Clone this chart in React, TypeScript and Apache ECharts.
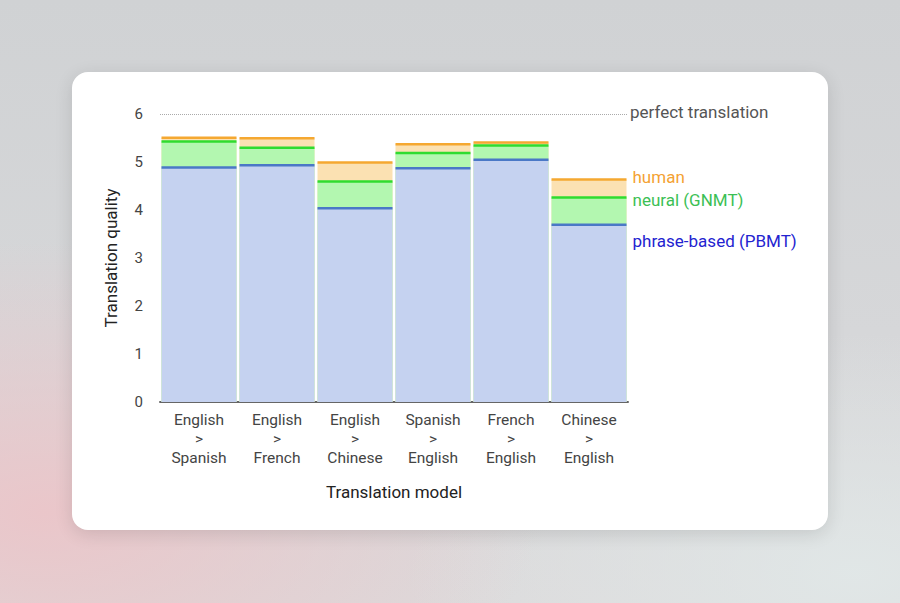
import React, { useEffect, useRef } from "react";
import * as echarts from "echarts";

const categories = [
  "English\n>\nSpanish",
  "English\n>\nFrench",
  "English\n>\nChinese",
  "Spanish\n>\nEnglish",
  "French\n>\nEnglish",
  "Chinese\n>\nEnglish",
];
const pbmt = [4.885, 4.932, 4.035, 4.872, 5.046, 3.694];
const gnmt = [5.428, 5.295, 4.594, 5.187, 5.343, 4.263];
const human = [5.504, 5.496, 4.987, 5.372, 5.404, 4.636];
const perfect = 6;
const yTicks = [0, 1, 2, 3, 4, 5, 6];

const FONT = "Roboto, 'Noto Sans', sans-serif";

function makeSeries(
  name: string,
  values: number[],
  fill: string,
  line: string,
  labelText: string,
  labelColor: string,
  labelDy: number,
  z: number
) {
  const last = values.length - 1;
  return {
    type: "custom",
    name,
    z,
    data: values.map((v, i) => [i, v]),
    renderItem: (params: any, api: any) => {
      const i = api.value(0);
      const v = api.value(1);
      const top = api.coord([i, v]);
      const bottom = api.coord([i, 0]);
      const band = api.size([1, 0])[0];
      const bw = band - 3;
      const x0 = top[0] - bw / 2;
      const children: any[] = [
        {
          type: "rect",
          shape: { x: x0, y: top[1], width: bw, height: bottom[1] - top[1] },
          style: { fill },
        },
        {
          type: "rect",
          shape: { x: x0, y: top[1] - 1.25, width: bw, height: 2.5 },
          style: { fill: line },
        },
      ];
      if (params.dataIndex === last) {
        children.push({
          type: "text",
          x: x0 + bw + 6,
          y: top[1] + labelDy,
          style: {
            text: labelText,
            fill: labelColor,
            font: `17px ${FONT}`,
            verticalAlign: "middle",
            align: "left",
          },
        });
      }
      return { type: "group", children };
    },
  };
}

export default function App() {
  const ref = useRef<HTMLDivElement>(null);
  useEffect(() => {
    if (!ref.current) return;
    const chart = echarts.init(ref.current, undefined, { renderer: "svg" });
    chart.setOption({
      animation: false,
      backgroundColor: "transparent",
      textStyle: { fontFamily: FONT },
      grid: { left: 160, right: 272, top: 114, bottom: 201, containLabel: false },
      xAxis: {
        type: "category",
        data: categories,
        name: "Translation model",
        nameLocation: "middle",
        nameGap: 81,
        nameTextStyle: { fontSize: 17, color: "#222", fontFamily: FONT },
        axisLine: { show: true, lineStyle: { color: "#666", width: 2 } },
        axisTick: { show: false },
        axisLabel: {
          interval: 0,
          fontSize: 15.5,
          lineHeight: 19,
          color: "#444",
          margin: 8,
          fontFamily: FONT,
        },
      },
      yAxis: {
        type: "value",
        min: yTicks[0],
        max: yTicks[yTicks.length - 1],
        interval: 1,
        name: "Translation quality",
        nameLocation: "middle",
        nameGap: 41,
        nameTextStyle: { fontSize: 17, color: "#222", fontFamily: FONT },
        axisLine: { show: false },
        axisTick: { show: false },
        splitLine: { show: false },
        axisLabel: { fontSize: 15, color: "#444", margin: 17, fontFamily: FONT },
      },
      series: [
        makeSeries("human", human, "#fbe1b2", "#f5a831", "human", "#f4a233", -2, 2),
        makeSeries("neural (GNMT)", gnmt, "#b3f7b0", "#2fdc2f", "neural (GNMT)", "#3cbf55", 3, 3),
        makeSeries("phrase-based (PBMT)", pbmt, "#c5d2f0", "#4a78c6", "phrase-based (PBMT)", "#2323d0", 16, 4),
        {
          type: "line",
          data: [],
          z: 5,
          markLine: {
            silent: true,
            symbol: "none",
            data: [{ yAxis: perfect }],
            lineStyle: { type: "dotted", color: "#aaa", width: 1 },
            label: {
              position: "end",
              formatter: "perfect translation",
              color: "#555",
              fontSize: 17,
              distance: 2,
              offset: [0, -2],
              fontFamily: FONT,
            },
          },
        },
      ],
    });
    return () => chart.dispose();
  }, []);

  return (
    <div
      style={{
        position: "fixed",
        left: 0,
        top: 0,
        width: 900,
        height: 603,
        overflow: "hidden",
        background:
          "radial-gradient(ellipse 55% 45% at 5% 85%, rgba(236,196,200,0.9), rgba(236,196,200,0) 100%), radial-gradient(ellipse 50% 40% at 95% 95%, rgba(225,232,232,0.9), rgba(225,232,232,0) 100%), linear-gradient(180deg, #d0d2d4 0%, #d6d7d9 55%, #dcdadb 100%)",
      }}
    >
      <div
        style={{
          position: "absolute",
          left: 72,
          top: 72,
          width: 756,
          height: 458,
          background: "#fff",
          borderRadius: 16,
          boxShadow: "0 4px 18px rgba(0,0,0,0.12)",
        }}
      />
      <div ref={ref} style={{ position: "absolute", left: 0, top: 0, width: 900, height: 603 }} />
    </div>
  );
}
